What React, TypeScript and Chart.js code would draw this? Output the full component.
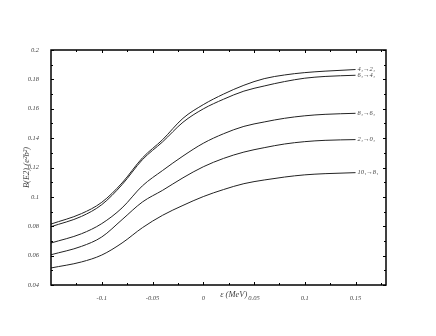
import React, { useEffect, useRef } from "react";
import { Chart, registerables } from "chart.js";

Chart.register(...registerables);

const X_VALUES = [-0.15, -0.12, -0.1, -0.08, -0.06, -0.04, -0.02, 0, 0.02, 0.04, 0.06, 0.08, 0.1, 0.12, 0.15];
const SERIES_4_2 = [0.0815, 0.0886, 0.0963, 0.1095, 0.1265, 0.139, 0.1535, 0.1628, 0.170, 0.176, 0.1805, 0.183, 0.1846, 0.1856, 0.1867];
const SERIES_6_4 = [0.0797, 0.0867, 0.0947, 0.1083, 0.1253, 0.1375, 0.1508, 0.1599, 0.1665, 0.172, 0.1755, 0.1785, 0.1808, 0.182, 0.1828];
const SERIES_8_6 = [0.0686, 0.0749, 0.0818, 0.0925, 0.1075, 0.118, 0.1278, 0.1365, 0.143, 0.148, 0.151, 0.1535, 0.1552, 0.1562, 0.1569];
const SERIES_2_0 = [0.0606, 0.0663, 0.0727, 0.0845, 0.0965, 0.1045, 0.113, 0.1205, 0.1262, 0.1305, 0.1335, 0.136, 0.1376, 0.1385, 0.139];
const SERIES_10_8 = [0.0516, 0.0557, 0.0604, 0.0686, 0.079, 0.0875, 0.0942, 0.1002, 0.105, 0.109, 0.1115, 0.1135, 0.115, 0.1158, 0.1165];
const SERIES_LABELS = ["4₁→2₁", "6₁→4₁", "8₁→6₁", "2₁→0₁", "10₁→8₁"];

const X_TICKS = [-0.1, -0.05, 0, 0.05, 0.1, 0.15];
const X_MINOR = [-0.125, -0.075, -0.025, 0.025, 0.075, 0.125, 0.175];
const Y_TICKS = [0.04, 0.06, 0.08, 0.1, 0.12, 0.14, 0.16, 0.18, 0.2];
const Y_MINOR = [0.05, 0.07, 0.09, 0.11, 0.13, 0.15, 0.17, 0.19];

const X_TITLE = "ε (MeV)";
const Y_TITLE = "B(E2) (e²b²)";

const FONT = "'Liberation Serif', 'DejaVu Serif', serif";
const TEXT_COLOR = "#444";
const LINE_COLOR = "#222";

const fmt = (v: number) => String(+v.toFixed(2));

const framePlugin = {
  id: "frame",
  afterDraw(chart: any) {
    const { ctx, chartArea: a, scales } = chart;
    const xs = scales.x;
    const ys = scales.y;
    ctx.save();
    ctx.strokeStyle = "#000";
    ctx.lineWidth = 1.5;
    ctx.strokeRect(a.left, a.top, a.right - a.left, a.bottom - a.top);
    ctx.lineWidth = 1;
    const tick = (x1: number, y1: number, x2: number, y2: number) => {
      ctx.beginPath();
      ctx.moveTo(x1, y1);
      ctx.lineTo(x2, y2);
      ctx.stroke();
    };
    X_TICKS.forEach((v) => {
      const x = Math.round(xs.getPixelForValue(v)) + 0.5;
      tick(x, a.bottom, x, a.bottom - 3);
      tick(x, a.top, x, a.top + 3);
    });
    X_MINOR.forEach((v) => {
      if (v > xs.max) return;
      const x = Math.round(xs.getPixelForValue(v)) + 0.5;
      tick(x, a.bottom, x, a.bottom - 2);
      tick(x, a.top, x, a.top + 2);
    });
    Y_TICKS.forEach((v) => {
      const y = Math.round(ys.getPixelForValue(v)) + 0.5;
      tick(a.left, y, a.left + 3, y);
      tick(a.right, y, a.right - 3, y);
    });
    Y_MINOR.forEach((v) => {
      const y = Math.round(ys.getPixelForValue(v)) + 0.5;
      tick(a.left, y, a.left + 2, y);
      tick(a.right, y, a.right - 2, y);
    });

    // titles
    ctx.fillStyle = TEXT_COLOR;
    ctx.font = `italic 8.5px ${FONT}`;
    ctx.textAlign = "center";
    ctx.textBaseline = "middle";
    ctx.fillText(X_TITLE, xs.getPixelForValue(0.03), a.bottom + 10);
    ctx.save();
    ctx.translate(27, (a.top + a.bottom) / 2);
    ctx.rotate(-Math.PI / 2);
    ctx.fillText(Y_TITLE, 0, 0);
    ctx.restore();

    // series labels
    ctx.font = `italic 6.5px ${FONT}`;
    ctx.textAlign = "left";
    chart.data.datasets.forEach((ds: any, i: number) => {
      const last = ds.data[ds.data.length - 1];
      const x = xs.getPixelForValue(last.x) + 2;
      const y = ys.getPixelForValue(last.y);
      ctx.fillText(SERIES_LABELS[i], x, y);
    });
    ctx.restore();
  },
};

export default function App() {
  const ref = useRef<HTMLCanvasElement | null>(null);
  useEffect(() => {
    if (!ref.current) return;
    const all = [SERIES_4_2, SERIES_6_4, SERIES_8_6, SERIES_2_0, SERIES_10_8];
    const chart = new Chart(ref.current, {
      type: "line",
      data: {
        datasets: all.map((s, i) => ({
          label: SERIES_LABELS[i],
          data: X_VALUES.map((x, j) => ({ x, y: s[j] })),
          borderColor: LINE_COLOR,
          borderWidth: 1,
          pointRadius: 0,
          cubicInterpolationMode: "monotone" as const,
          fill: false,
        })),
      },
      options: {
        responsive: false,
        animation: false,
        layout: { padding: { left: 0, right: 50, top: 50, bottom: 0 } },
        plugins: { legend: { display: false }, tooltip: { enabled: false } },
        scales: {
          x: {
            type: "linear",
            min: -0.15,
            max: 0.18,
            grid: { display: false },
            border: { display: false },
            afterBuildTicks: (s: any) => {
              s.ticks = X_TICKS.map((v) => ({ value: v }));
            },
            afterFit: (s: any) => {
              s.height = 51;
            },
            ticks: {
              autoSkip: false,
              maxRotation: 0,
              padding: 1,
              color: TEXT_COLOR,
              font: { family: FONT, size: 6.5, style: "italic" },
              callback: (v: any) => fmt(Number(v)),
            },
          },
          y: {
            type: "linear",
            min: 0.04,
            max: 0.2,
            grid: { display: false },
            border: { display: false },
            afterBuildTicks: (s: any) => {
              s.ticks = Y_TICKS.map((v) => ({ value: v }));
            },
            afterFit: (s: any) => {
              s.width = 51;
            },
            ticks: {
              autoSkip: false,
              padding: 4,
              color: TEXT_COLOR,
              font: { family: FONT, size: 6.5, style: "italic" },
              callback: (v: any) => fmt(Number(v)),
            },
          },
        },
      },
      plugins: [framePlugin],
    });
    return () => chart.destroy();
  }, []);
  return (
    <canvas
      ref={ref}
      width={436}
      height={336}
      style={{ position: "fixed", left: 0, top: 0, width: 436, height: 336 }}
    />
  );
}
